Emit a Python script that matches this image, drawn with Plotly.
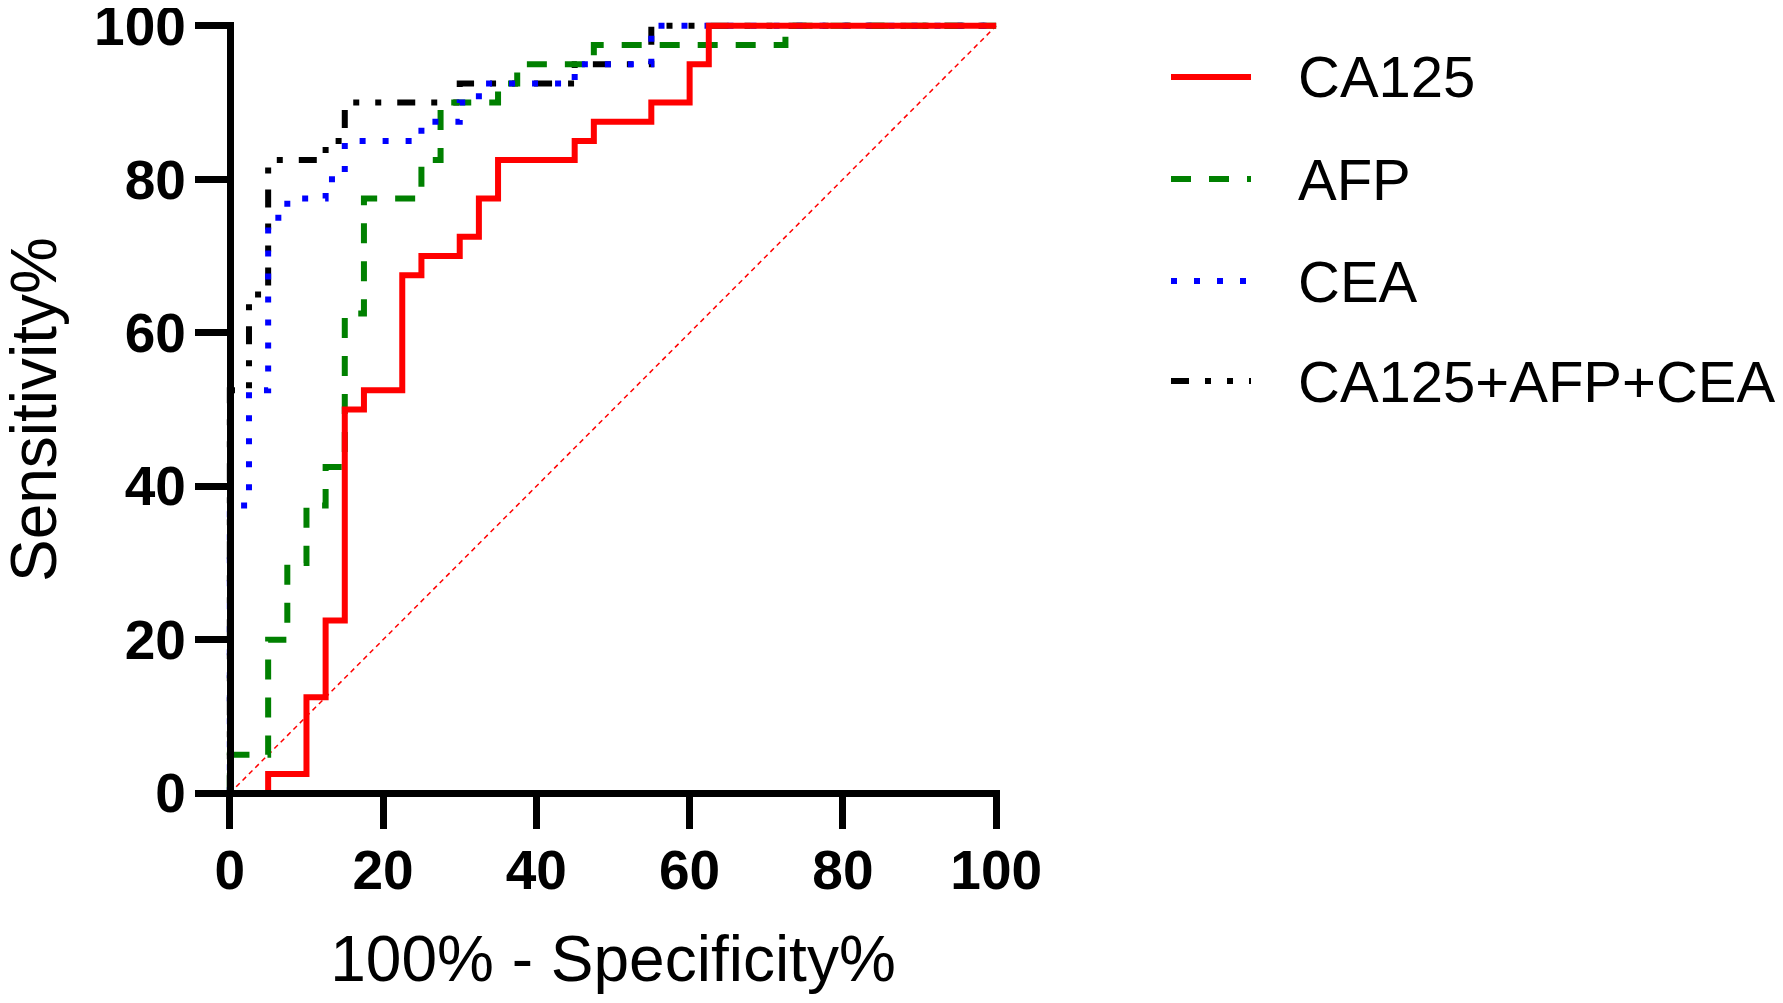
import plotly.graph_objects as go

# ROC coordinates: (100% - specificity%, sensitivity%)
ca125_fpr = [0, 5, 10, 12.5, 15, 17.5, 22.5, 25, 30, 32.5, 35, 45, 47.5, 55, 60, 62.5, 100]
ca125_tpr = [0, 2.5, 12.5, 22.5, 50, 52.5, 67.5, 70, 72.5, 77.5, 82.5, 85, 87.5, 90, 95, 100, 100]

afp_fpr = [0, 0, 5, 7.5, 10, 12.5, 15, 17.5, 25, 27.5, 35, 37.5, 47.5, 72.5, 100]
afp_tpr = [0, 5, 20, 30, 37.5, 42.5, 62.5, 77.5, 82.5, 90, 92.5, 95, 97.5, 100, 100]

cea_fpr = [0, 0, 2.5, 5, 7.5, 12.5, 15, 25, 30, 32.5, 45, 55, 100]
cea_tpr = [0, 37.5, 52.5, 75, 77.5, 80, 85, 87.5, 90, 92.5, 95, 100, 100]

comb_fpr = [0, 0, 2.5, 5, 12.5, 15, 30, 45, 55, 100]
comb_tpr = [0, 52.5, 65, 82.5, 85, 90, 92.5, 95, 100, 100]

ref_line = [0, 100]
tick_vals = [0, 20, 40, 60, 80, 100]

names = ["CA125", "AFP", "CEA", "CA125+AFP+CEA"]
colors = ["#ff0000", "#008000", "#0000ff", "#000000"]
dashes = ["solid", "20px,18px", "6px,17px", "18px,16px,6px,16px,6px,16px"]

# the page body has an 8px margin, so the figure is 8px smaller and everything shifted
OFF = 8
W, H = 1783 - OFF, 1003 - OFF
# plot area in pixels (range padded by half a unit so thick lines are not clipped)
L, R, T, B = 226 - OFF, 1000 - OFF, 22 - OFF, 797 - OFF
FONT = "Liberation Sans, Arial"

fig = go.Figure()

fig.add_trace(go.Scatter(x=ref_line, y=ref_line, mode="lines",
                         line=dict(color="#ff0000", width=1.5, dash="5px,4px"),
                         showlegend=False, hoverinfo="skip"))

series = [(ca125_fpr, ca125_tpr), (afp_fpr, afp_tpr), (cea_fpr, cea_tpr), (comb_fpr, comb_tpr)]
# first data set ends up on top, as in the original
for i in [3, 1, 2, 0]:
    fx, fy = series[i]
    fig.add_trace(go.Scatter(x=fx, y=fy, mode="lines", name=names[i], line_shape="hv",
                             line=dict(color=colors[i], width=6, dash=dashes[i])))

# hand-made legend so the sample lines can be long like the original
def px_x(p):
    return (p - OFF - L) / (R - L)

def px_y(p):
    return (B - (p - OFF)) / (B - T)

legend_rows = [77, 179, 281, 381]
for name, col, dsh, row in zip(names, colors, dashes, legend_rows):
    fig.add_shape(type="line", xref="paper", yref="paper",
                  x0=px_x(1171), x1=px_x(1251), y0=px_y(row), y1=px_y(row),
                  line=dict(color=col, width=6, dash=dsh))
    fig.add_annotation(text=name, xref="paper", yref="paper", x=px_x(1296), y=px_y(row),
                       xanchor="left", yanchor="middle", showarrow=False,
                       font=dict(family=FONT, size=58, color="black"))

# y axis title placed by hand (axis title cannot sit this close to the edge)
fig.add_annotation(text="Sensitivity%", xref="paper", yref="paper", x=px_x(34), y=px_y(410),
                   xanchor="center", yanchor="middle", textangle=-90, showarrow=False,
                   font=dict(family=FONT, size=64, color="black"))

pad = 0.5
pos0 = pad / (100 + 2 * pad)

axis_common = dict(
    range=[-pad, 100 + pad], tickvals=tick_vals, showgrid=False, zeroline=False,
    showline=True, linecolor="black", linewidth=7,
    ticks="outside", ticklen=32, tickwidth=7, tickcolor="black",
    tickfont=dict(family=FONT, size=55, color="black", weight="bold"),
    ticklabeloverflow="allow", automargin=False,
    anchor="free", position=pos0,
)

fig.update_layout(
    width=W, height=H,
    margin=dict(l=L, r=W - R, t=T, b=H - B),
    plot_bgcolor="white", paper_bgcolor="white",
    showlegend=False,
    xaxis=dict(**axis_common, ticklabelstandoff=-6,
               title=dict(text="100% - Specificity%", standoff=36,
                          font=dict(family=FONT, size=64, color="black"))),
    yaxis=dict(**axis_common, ticklabelstandoff=-2),
)

fig.write_html("out.html")
